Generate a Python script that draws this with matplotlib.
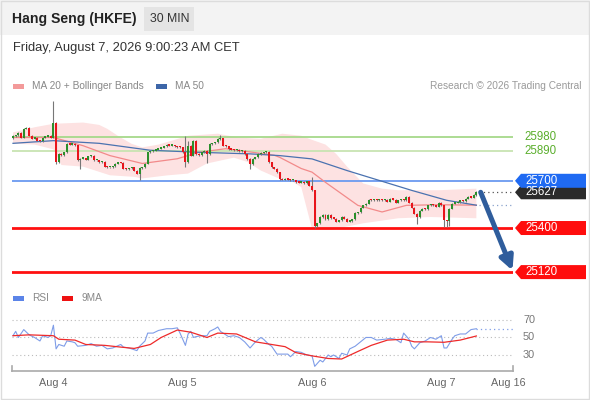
import matplotlib
matplotlib.use('Agg')
import matplotlib.pyplot as plt
from matplotlib.patches import Rectangle, Polygon
from matplotlib.transforms import blended_transform_factory

plt.rcParams['font.family'] = ['Liberation Sans', 'DejaVu Sans']

# ---- data (30 min candles, index = bar number) ----
first_open = 25970
closes = [
    25985, 25990, 26005, 25975, 26030, 26035, 25986, 25968, 25975, 25955,
    25950, 25975, 25980, 25985, 25975, 26070, 25818, 25870, 25862, 25880,
    25935, 25930, 25935, 25925, 25830, 25840, 25840, 25835, 25855, 25860,
    25830, 25830, 25820, 25822, 25790, 25786, 25786, 25792, 25809, 25818,
    25814, 25776, 25772, 25780, 25786, 25765, 25745, 25782, 25786, 25808,
    25880, 25888, 25892, 25898, 25904, 25910, 25918, 25927, 25923, 25923,
    25918, 25915, 25912, 25881, 25818, 25923, 25860, 25955, 25870, 25862,
    25881, 25892, 25870, 25934, 25938, 25945, 25965, 25970, 25923, 25918,
    25902, 25898, 25896, 25898, 25890, 25892, 25871, 25839, 25807, 25840,
    25850, 25871, 25877, 25881, 25885, 25818, 25786, 25776, 25755, 25712,
    25706, 25712, 25708, 25702, 25702, 25691, 25688, 25694, 25685, 25696,
    25670, 25639, 25410, 25430, 25470, 25485, 25455, 25485, 25462, 25460,
    25440, 25450, 25470, 25460, 25440, 25445, 25455, 25495, 25500, 25530,
    25545, 25555, 25580, 25578, 25580, 25576, 25580, 25578, 25580, 25568,
    25585, 25580, 25560, 25575, 25580, 25576, 25600, 25560, 25530, 25490,
    25470, 25510, 25523, 25520, 25544, 25548, 25544, 25535, 25560, 25544,
    25449, 25445, 25523, 25555, 25560, 25565, 25576, 25572, 25586, 25597,
    25593, 25610, 25627,
]
wick_high = {15: 26208, 64: 25986, 65: 25950, 77: 25990, 111: 25723, 172: 25638}
wick_low = {16: 25805, 25: 25778, 47: 25702, 64: 25790, 72: 25810, 88: 25776,
            112: 25397, 150: 25428, 160: 25407, 161: 25407, 162: 25410}

ma20_idx = [0, 15, 26, 36, 48, 61, 69, 79, 89, 97, 99, 107, 111, 116, 128, 137, 146, 158, 172]
ma20_val = [25975, 25975, 25923, 25860, 25810, 25840, 25881, 25904, 25881, 25862,
            25849, 25778, 25755, 25690, 25544, 25502, 25544, 25548, 25545]

ma50_idx = [0, 15, 32, 51, 69, 88, 99, 111, 124, 136, 148, 161, 172]
ma50_val = [25938, 25955, 25938, 25894, 25881, 25871, 25860, 25839, 25765, 25702,
            25639, 25576, 25545]

bb_up_idx = [0, 8, 15, 26, 32, 35, 39, 44, 48, 54, 59, 65, 76, 84, 92, 100, 107, 111,
             116, 120, 124, 130, 137, 143, 158, 172]
bb_up_val = [26007, 26040, 26062, 26070, 26055, 26030, 25985, 25935, 25912, 25930,
             25955, 25986, 25999, 25974, 25967, 25999, 25986, 25960, 25930, 25870,
             25790, 25683, 25650, 25640, 25640, 25650]
bb_lo_idx = [0, 8, 15, 18, 26, 36, 45, 48, 57, 65, 72, 82, 87, 92, 98, 103, 107, 111,
             118, 130, 143, 155, 172]
bb_lo_val = [25936, 25930, 25900, 25800, 25790, 25735, 25725, 25715, 25734, 25746,
             25810, 25847, 25820, 25765, 25720, 25702, 25660, 25395, 25390, 25430,
             25462, 25470, 25462]

rsi_idx = [0, 1, 2, 4, 6, 8, 10, 11, 13, 14, 15, 16, 17, 19, 20, 22, 23, 24, 27, 29,
           31, 33, 35, 37, 40, 41, 43, 46, 47, 49, 50, 52, 54, 57, 59, 61, 62, 64, 65, 66,
           67, 68, 70, 72, 73, 75, 76, 77, 79, 80, 82, 84, 86, 88, 90, 92, 93, 95, 96, 98,
           100, 102, 103, 105, 107, 109, 111, 112, 114, 115, 117, 118, 119, 121, 122, 124, 125, 127, 129, 131,
           133, 135, 138, 140, 142, 144, 145, 147, 148, 149, 151, 153, 155, 157, 159, 160, 161, 163, 164, 166,
           168, 170, 172]
rsi_val = [52, 57, 50, 59, 53, 50, 46, 52, 50, 52, 64, 37, 42, 40, 46, 45, 44, 40, 41, 43,
           40, 41, 37, 38, 42, 39, 38, 35, 40, 46, 55, 55, 58, 60, 60, 61, 55, 41, 54, 57,
           50, 51, 52, 52, 57, 60, 62, 57, 53, 51, 52, 50, 45, 38, 45, 50, 48, 42, 40, 31,
           31, 31, 28, 34, 33, 30, 29, 17, 24, 22, 30, 28, 30, 26, 32, 30, 37, 40, 45, 50,
           50, 47, 48, 49, 48, 44, 55, 48, 40, 37, 44, 46, 50, 48, 52, 38, 38, 48, 52, 54,
           54, 59, 60]

ma9_idx = [0, 6, 15, 17, 23, 27, 34, 40, 45, 51, 55, 61, 66, 72, 76, 83, 90, 96, 101, 105,
           111, 117, 122, 128, 133, 139, 145, 149, 154, 160, 166, 172]
ma9_val = [52, 53, 52, 48, 47, 42, 41, 39, 37.5, 42, 50, 58.5, 56, 50, 55, 54, 45, 42, 39.5, 32.7,
           29, 26, 25.4, 34, 41, 47, 48, 45, 45, 44.5, 47, 51.7]

day_idx = [15, 63, 111, 159, 184]
day_labels = ['Aug 4', 'Aug 5', 'Aug 6', 'Aug 7', 'Aug 16']

res_levels = [25980, 25890]
pivot = 25700
sup_levels = [25400, 25120]
last_price = closes[-1]

# ---- layout helpers (pixels of the 590x400 picture) ----
W, H = 590, 400
def fx(px):
    return px / W
def fy(py):
    return 1 - py / H

fig = plt.figure(figsize=(5.9, 4.0), dpi=100)
fig.patch.set_facecolor('white')

# header strip
fig.patches.append(Rectangle((0, fy(35)), 1, 35 / H, transform=fig.transFigure,
                             fc='#f3f3f3', ec='none', zorder=0))
fig.patches.append(Rectangle((fx(144), fy(31)), 50 / W, 24 / H, transform=fig.transFigure,
                             fc='#e4e4e4', ec='none', zorder=1))
fig.patches.append(Rectangle((0.001, 0.002), 0.997, 0.996, transform=fig.transFigure,
                             fill=False, ec='#dcdcdc', lw=1, zorder=2))
fig.text(fx(12), fy(19), 'Hang Seng (HKFE)', fontsize=10.1, fontweight='bold',
         color='#222222', va='center')
fig.text(fx(150), fy(19), '30 MIN', fontsize=8.8, color='#333333', va='center')
fig.text(fx(13), fy(48), 'Friday, August 7, 2026 9:00:23 AM CET', fontsize=9.3,
         color='#333333', va='center')

# legends
fig.patches.append(Rectangle((fx(13), fy(89)), 11 / W, 5 / H, transform=fig.transFigure,
                             fc='#f39a9a', ec='none'))
fig.text(fx(32), fy(86), 'MA 20 + Bollinger Bands', fontsize=7.3, color='#888888', va='center')
fig.patches.append(Rectangle((fx(156), fy(89)), 11 / W, 5 / H, transform=fig.transFigure,
                             fc='#3d66a8', ec='none'))
fig.text(fx(175), fy(86), 'MA 50', fontsize=7.3, color='#888888', va='center')
fig.text(fx(581), fy(86), 'Research \u00a9 2026 Trading Central', fontsize=7.3,
         color='#9a9a9a', va='center', ha='right')

fig.patches.append(Rectangle((fx(13), fy(301)), 11 / W, 5 / H, transform=fig.transFigure,
                             fc='#5b84e8', ec='none'))
fig.text(fx(32), fy(298), 'RSI', fontsize=7.3, color='#888888', va='center')
fig.patches.append(Rectangle((fx(62), fy(301)), 11 / W, 5 / H, transform=fig.transFigure,
                             fc='#ee1111', ec='none'))
fig.text(fx(81), fy(298), '9MA', fontsize=7.3, color='#888888', va='center')

# ---- price panel ----
ax = fig.add_axes([fx(12), fy(285), 501 / W, 190 / H])
xlim = (-0.37, 185.6)
ylim = (25038, 26245)
ax.set_xlim(*xlim)
ax.set_ylim(*ylim)
ax.axis('off')
ppx = (ylim[1] - ylim[0]) / 190.0

# Bollinger band as one closed shape through the read points
ax.fill(bb_up_idx + bb_lo_idx[::-1], bb_up_val + bb_lo_val[::-1],
        color='#fde2e2', lw=0, zorder=1)

for lv in res_levels:
    col = '#a6d98a' if lv == res_levels[0] else '#c8e4b2'
    ax.axhline(lv, color=col, lw=1.3, zorder=2)
ax.axhline(pivot, color='#6b9af0', lw=1.3, zorder=2)
for lv in sup_levels:
    ax.axhline(lv, color='#ff1010', lw=2, zorder=2)

ax.plot(ma20_idx, ma20_val, color='#f28a8a', lw=0.9, zorder=3)
ax.plot(ma50_idx, ma50_val, color='#4a72b0', lw=0.9, zorder=3)
ax.plot([ma50_idx[-1] + 1, xlim[1]], [ma50_val[-1]] * 2, color='#8aa3cc', lw=0.9,
        ls=(0, (1, 2.5)), zorder=3)
ax.plot([len(closes), xlim[1]], [last_price] * 2, color='#555555', lw=0.9,
        ls=(0, (1, 2.5)), zorder=3)

# candles
opens = [first_open] + closes[:-1]
for i, (o, c) in enumerate(zip(opens, closes)):
    hi = wick_high.get(i, max(o, c) + 4)
    lo = wick_low.get(i, min(o, c) - 4)
    up = c >= o
    col = '#2b8f2b' if up else '#e8141b'
    ax.vlines(i, lo, hi, color='#777777', lw=0.8, zorder=4)
    body = max(abs(c - o), 8)
    ax.bar(i, body, bottom=min(o, c), width=0.74, color=col, lw=0, zorder=5)

# target arrow
ax.annotate('', xy=(xlim[1] - 0.2, sup_levels[1] + 10), xytext=(len(closes) + 0.6, last_price),
            arrowprops=dict(arrowstyle='-|>', color='#2f5d9c', lw=3.6, mutation_scale=20,
                            shrinkA=0, shrinkB=0), zorder=6)

# right side tags
trans = blended_transform_factory(fig.transFigure, ax.transData)

def tag(level, text, fc):
    h = 7 * ppx
    pts = [(fx(515), level), (fx(521), level + h), (fx(586), level + h),
           (fx(586), level - h), (fx(521), level - h)]
    ax.add_patch(Polygon(pts, closed=True, fc=fc, ec='none', transform=trans,
                         clip_on=False, zorder=7))
    ax.text(fx(525), level, text, transform=trans, color='white', fontsize=8.3,
            va='center', ha='left', clip_on=False, zorder=8)

for lv in res_levels:
    ax.text(fx(524), lv, str(lv), transform=trans, color='#5aae2c', fontsize=8.3,
            va='center', ha='left', clip_on=False)
tag(last_price, str(last_price), '#2b2b2b')
tag(pivot, str(pivot), '#1f6af2')
for lv in sup_levels:
    tag(lv, str(lv), '#ff0d0d')

# ---- RSI panel ----
ax2 = fig.add_axes([fx(12), fy(371), 501 / W, 66 / H])
ax2.set_xlim(*xlim)
ax2.set_ylim(11.7, 87.1)
for s in ['top', 'right', 'left']:
    ax2.spines[s].set_visible(False)
ax2.spines['bottom'].set_color('#aaaaaa')
ax2.spines['bottom'].set_linewidth(1.2)
ax2.plot([0, 0], [0, 0.08], transform=ax2.transAxes, color='#aaaaaa', lw=1.2, clip_on=False)
ax2.plot([1, 1], [0, 0.08], transform=ax2.transAxes, color='#aaaaaa', lw=1.2, clip_on=False)
for v in (30, 50, 70):
    ax2.axhline(v, color='#bbbbbb', lw=0.8, ls=(0, (1, 2.5)))
    ax2.text(1.02, v, str(v), transform=blended_transform_factory(ax2.transAxes, ax2.transData),
             fontsize=7.8, color='#777777', va='center', ha='left')
ax2.plot(rsi_idx, rsi_val, color='#7f9de8', lw=0.8)
ax2.plot([rsi_idx[-1], xlim[1]], [rsi_val[-1]] * 2, color='#7f9de8', lw=0.9, ls=(0, (1, 2.5)))
ax2.plot(ma9_idx, ma9_val, color='#ee2a2a', lw=0.9)
ax2.set_yticks([])
ax2.set_xticks(day_idx)
ax2.set_xticklabels(day_labels)
ax2.tick_params(axis='x', length=0, pad=5, labelsize=7.8, labelcolor='#666666')

fig.savefig('out.png', dpi=100)
